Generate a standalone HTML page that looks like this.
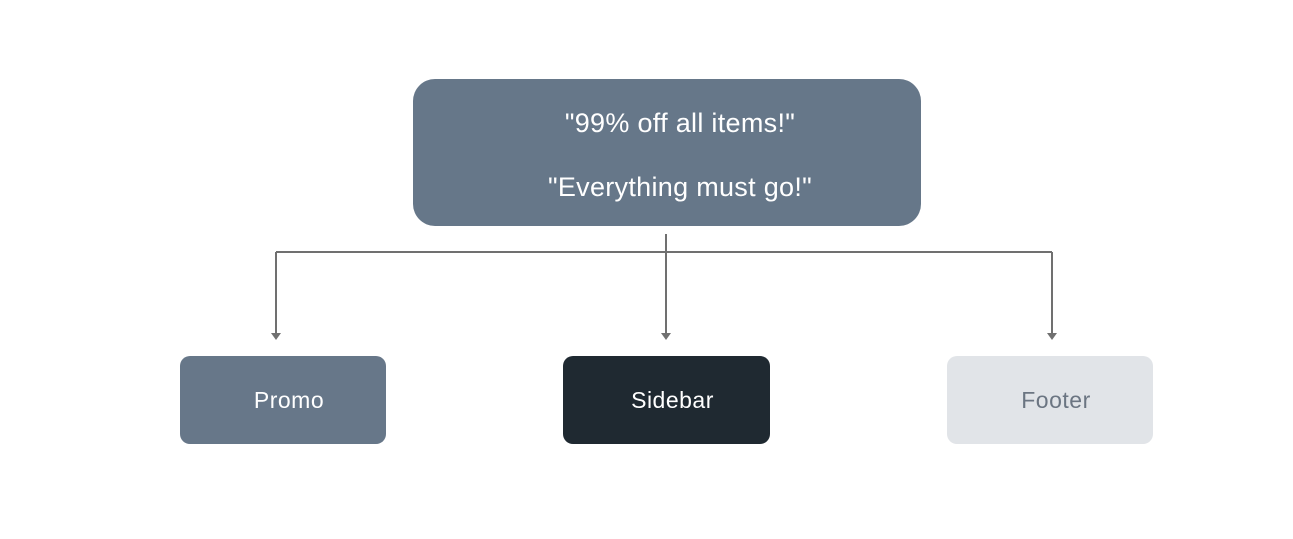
<!DOCTYPE html>
<html><head><style>
body{margin:0;width:1293px;height:539px;background:#fff;position:relative;overflow:hidden;font-family:"Liberation Sans",sans-serif}
.b{position:absolute;display:flex;align-items:center;justify-content:center;box-sizing:border-box}
</style></head><body>
<div class="b" style="left:413px;top:79px;width:508px;height:147px;background:#667789;border-radius:22px;color:#fff;font-size:27px;flex-direction:column;line-height:1;padding-left:26px;padding-top:6px;letter-spacing:0.3px">
<div style="margin-bottom:37px">"99% off all items!"</div><div>"Everything must go!"</div></div>
<svg width="1293" height="539" style="position:absolute;left:0;top:0">
<g stroke="#707070" stroke-width="2" fill="none">
<path d="M666 234V334M276 252H1052M276 252V334M1052 252V334"/></g>
<g fill="#707070"><path d="M271 333h10l-5 7z"/><path d="M661 333h10l-5 7z"/><path d="M1047 333h10l-5 7z"/></g>
</svg>
<div class="b" style="left:180px;top:356px;width:206px;height:88px;background:#677789;border-radius:10px;color:#fff;font-size:23px;padding-left:12px;letter-spacing:0.5px">Promo</div>
<div class="b" style="left:563px;top:356px;width:207px;height:88px;background:#1f2931;border-radius:10px;color:#fff;font-size:23px;padding-left:12px;letter-spacing:0.5px">Sidebar</div>
<div class="b" style="left:947px;top:356px;width:206px;height:88px;background:#e1e4e8;border-radius:10px;color:#6b7582;font-size:23px;padding-left:12px;letter-spacing:0.5px">Footer</div>
</body></html>
